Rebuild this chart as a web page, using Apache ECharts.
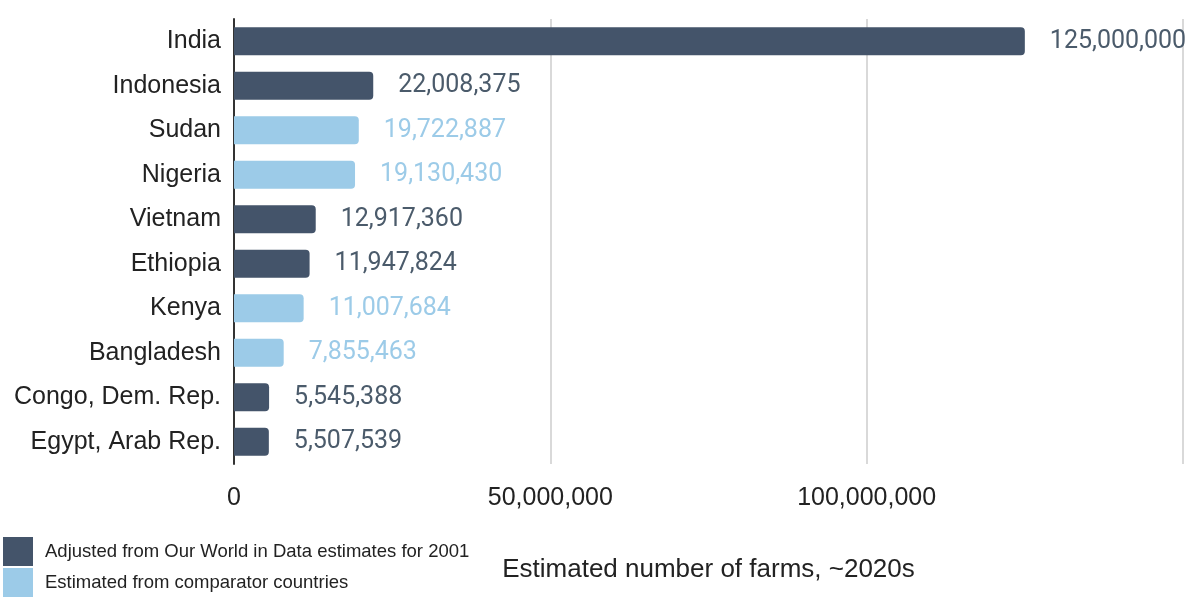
<!DOCTYPE html>
<html>
<head>
<meta charset="utf-8">
<script src="https://cdn.jsdelivr.net/npm/echarts@6/dist/echarts.min.js"></script>
<style>
html,body{margin:0;padding:0;background:#fff;}
#main{width:1191px;height:597px;}
</style>
</head>
<body>
<div id="main"></div>
<script>
// 国家列表（从上到下）
var countries = ['India', 'Indonesia', 'Sudan', 'Nigeria', 'Vietnam', 'Ethiopia', 'Kenya', 'Bangladesh', 'Congo, Dem. Rep.', 'Egypt, Arab Rep.'];
// 各国农场数
var farms = [125000000, 22008375, 19722887, 19130430, 12917360, 11947824, 11007684, 7855463, 5545388, 5507539];
// 数据来源：'owid' 或 'comp'
var source = ['owid', 'owid', 'comp', 'comp', 'owid', 'owid', 'comp', 'comp', 'owid', 'owid'];
var seriesNames = ['Adjusted from Our World in Data estimates for 2001', 'Estimated from comparator countries'];

window.addEventListener("load", function () {
    var chart = echarts.init(document.getElementById('main'));

    var darkColor = '#44546a';
    var lightColor = '#9ccbe8';

    function pick(key) {
        return farms.map(function (v, i) { return source[i] === key ? v : '-'; });
    }

    function makeSeries(name, key, color) {
        return {
            name: name,
            type: 'bar',
            stack: 'all',
            barWidth: 28,
            itemStyle: { color: color, borderRadius: [0, 4, 4, 0] },
            label: {
                show: true,
                position: 'right',
                distance: 25,
                color: key === 'owid' ? '#4b5b6b' : lightColor,
                fontFamily: 'Roboto',
                fontSize: 25,
                formatter: function (p) { return p.value.toLocaleString('en-US'); }
            },
            data: pick(key)
        };
    }

    var option = {
        animation: false,
        legend: {
            orient: 'vertical',
            left: 3,
            top: 537,
            padding: 0,
            itemWidth: 30,
            itemHeight: 29,
            itemGap: 2,
            icon: 'rect',
            selectedMode: false,
            textStyle: { fontFamily: 'Liberation Sans', fontSize: 18.5, color: '#222', padding: [0, 0, 0, 7] },
            data: seriesNames
        },
        grid: { left: 234, right: 8, top: 19, height: 445, containLabel: false },
        xAxis: {
            type: 'value',
            min: 0,
            max: 150000000,
            interval: 50000000,
            name: 'Estimated number of farms, ~2020s',
            nameLocation: 'middle',
            nameGap: 93,
            nameTextStyle: { fontFamily: 'Liberation Sans', fontSize: 26, color: '#222' },
            axisLine: { show: false },
            axisTick: { show: false },
            splitLine: { lineStyle: { color: '#cccccc', width: 1.5 } },
            axisLabel: {
                margin: 22,
                fontFamily: 'Liberation Sans',
                fontSize: 25,
                color: '#222',
                showMaxLabel: false,
                formatter: function (v) { return v === 150000000 ? '' : v.toLocaleString('en-US'); }
            }
        },
        yAxis: {
            type: 'category',
            inverse: true,
            data: countries,
            axisLine: { lineStyle: { color: '#333', width: 2 } },
            axisTick: { show: false },
            axisLabel: { margin: 13, fontFamily: 'Liberation Sans', fontSize: 25, color: '#222' }
        },
        series: [
            makeSeries(seriesNames[0], 'owid', darkColor),
            makeSeries(seriesNames[1], 'comp', lightColor)
        ]
    };

    chart.setOption(option);
}, false);
</script>
</body>
</html>
